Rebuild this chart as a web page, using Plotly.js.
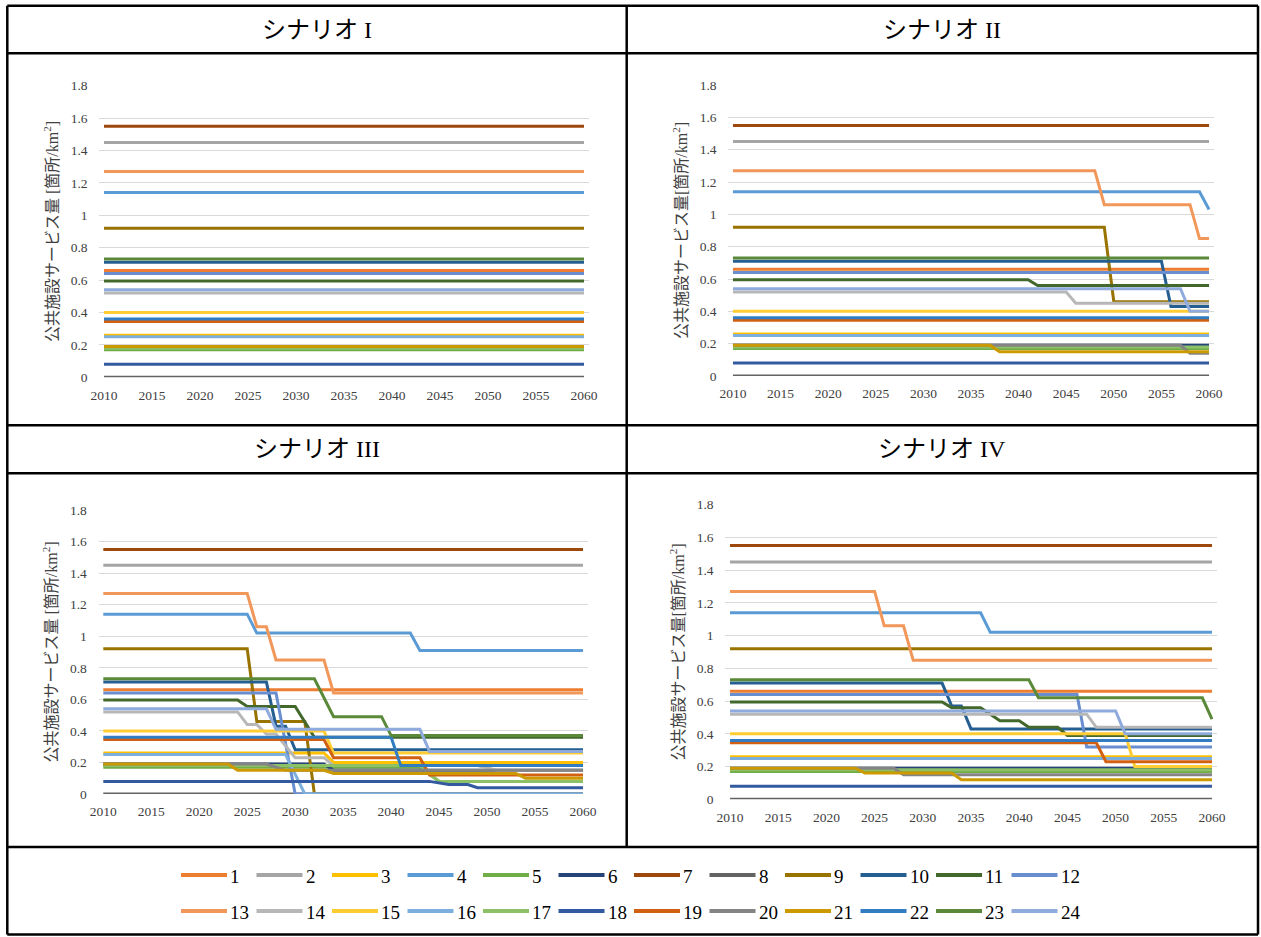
<!DOCTYPE html>
<html><head><meta charset="utf-8">
<script src="https://cdn.plot.ly/plotly-3.0.1.min.js"></script>
<style>html,body{margin:0;padding:0;background:#fff;overflow:hidden}</style>
</head><body><div id="chart" style="width:1261px;height:937px"></div>
<script>
// ---------- data ----------
const seriesNames = ['1','2','3','4','5','6','7','8','9','10','11','12','13','14','15','16','17','18','19','20','21','22','23','24'];
const seriesColors = ['#ED7D31','#A5A5A5','#FFC000','#5B9BD5','#70AD47','#264478','#9E480E','#636363','#997300','#255E91','#43682B','#698ED0',
                      '#F1975A','#B7B7B7','#FFCD33','#7CAFDD','#8CC168','#335AA1','#D26012','#848484','#CC9A00','#327DC2','#5A8A39','#8FAADC'];
const scenarioTitles = ['シナリオ I','シナリオ II','シナリオ III','シナリオ IV'];
const yAxisTitles = ['公共施設サービス量 [箇所/km<sup>2</sup>]','公共施設サービス量[箇所/km<sup>2</sup>]',
                     '公共施設サービス量 [箇所/km<sup>2</sup>]','公共施設サービス量[箇所/km<sup>2</sup>]'];
const xTickYears = [2010,2015,2020,2025,2030,2035,2040,2045,2050,2055,2060];
const yTickValues = [0,0.2,0.4,0.6,0.8,1,1.2,1.4,1.6,1.8];

// Scenario I : vertices (year, value) of each series 1..24
const scenario1Years = [
 [2010,2060],[2010,2060],[2010,2060],[2010,2060],[2010,2060],[2010,2060],[2010,2060],[2010,2060],
 [2010,2060],[2010,2060],[2010,2060],[2010,2060],[2010,2060],[2010,2060],[2010,2060],[2010,2060],
 [2010,2060],[2010,2060],[2010,2060],[2010,2060],[2010,2060],[2010,2060],[2010,2060],[2010,2060]];
const scenario1Values = [
 [0.66,0.66],[1.45,1.45],[0.26,0.26],[1.14,1.14],[0.17,0.17],[0.19,0.19],[1.55,1.55],[0,0],
 [0.92,0.92],[0.71,0.71],[0.595,0.595],[0.64,0.64],[1.27,1.27],[0.52,0.52],[0.40,0.40],[0.25,0.25],
 [0.18,0.18],[0.08,0.08],[0.345,0.345],[0.19,0.19],[0.19,0.19],[0.36,0.36],[0.73,0.73],[0.54,0.54]];

// Scenario II
const scenario2Years = [
 [2010,2060],[2010,2060],[2010,2060],[2010,2059,2060],[2010,2060],[2010,2060],[2010,2060],[2010,2060],
 [2010,2049,2050,2060],[2010,2055,2056,2060],[2010,2041,2042,2060],[2010,2060],
 [2010,2048,2049,2058,2059,2060],[2010,2045,2046,2060],[2010,2060],[2010,2060],
 [2010,2060],[2010,2060],[2010,2060],[2010,2057,2058,2060],[2010,2037,2038,2060],[2010,2060],[2010,2060],[2010,2057,2058,2060]];
const scenario2Values = [
 [0.66,0.66],[1.45,1.45],[0.26,0.26],[1.14,1.14,1.03],[0.17,0.17],[0.19,0.19],[1.55,1.55],[0,0],
 [0.92,0.92,0.46,0.46],[0.71,0.71,0.43,0.43],[0.595,0.595,0.56,0.56],[0.64,0.64],
 [1.27,1.27,1.06,1.06,0.85,0.85],[0.52,0.52,0.45,0.45],[0.40,0.40],[0.25,0.25],
 [0.18,0.18],[0.08,0.08],[0.345,0.345],[0.19,0.19,0.14,0.14],[0.19,0.19,0.15,0.15],[0.36,0.36],[0.73,0.73],[0.54,0.54,0.40,0.40]];

// Scenario III
const scenario3Years = [
 [2010,2060],[2010,2060],[2010,2033,2034,2060],[2010,2025,2026,2042,2043,2060],
 [2010,2043,2045,2060],[2010,2033,2034,2060],[2010,2060],[2010,2060],
 [2010,2025,2026,2031,2032,2060],[2010,2027,2028,2029,2030,2060],[2010,2024,2025,2030,2032,2060],[2010,2028,2030,2060],
 [2010,2025,2026,2027,2028,2033,2034,2060],[2010,2024,2025,2026,2027,2028,2030,2033,2034,2049,2051,2060],
 [2010,2033,2034,2060],[2010,2029,2031,2060],
 [2010,2043,2045,2060],[2010,2044,2046,2048,2049,2060],[2010,2033,2034,2043,2044,2060],[2010,2027,2029,2060],
 [2010,2023,2024,2033,2034,2053,2054,2060],[2010,2040,2041,2060],[2010,2032,2034,2039,2040,2060],[2010,2027,2028,2043,2044,2060]];
const scenario3Values = [
 [0.66,0.66],[1.45,1.45],[0.26,0.26,0.20,0.20],[1.14,1.14,1.02,1.02,0.91,0.91],
 [0.17,0.17,0.08,0.08],[0.19,0.19,0.15,0.15],[1.55,1.55],[0,0],
 [0.92,0.92,0.46,0.46,0,0],[0.71,0.71,0.43,0.43,0.28,0.28],[0.595,0.595,0.555,0.555,0.36,0.36],[0.64,0.64,0,0],
 [1.27,1.27,1.06,1.06,0.85,0.85,0.64,0.64],[0.52,0.52,0.44,0.44,0.38,0.38,0.23,0.23,0.18,0.18,0.15,0.15],
 [0.40,0.40,0.26,0.26],[0.25,0.25,0,0],
 [0.18,0.18,0.08,0.08],[0.08,0.08,0.06,0.06,0.04,0.04],[0.345,0.345,0.23,0.23,0.12,0.12],[0.19,0.19,0.15,0.15],
 [0.19,0.19,0.15,0.15,0.13,0.13,0.10,0.10],[0.36,0.36,0.18,0.18],[0.73,0.73,0.49,0.49,0.37,0.37],[0.54,0.54,0.41,0.41,0.27,0.27]];

// Scenario IV
const scenario4Years = [
 [2010,2060],[2010,2060],[2010,2060],[2010,2036,2037,2060],[2010,2060],[2010,2060],[2010,2060],[2010,2060],
 [2010,2060],[2010,2032,2033,2034,2035,2060],[2010,2032,2033,2036,2038,2040,2041,2044,2045,2060],[2010,2046,2047,2060],
 [2010,2025,2026,2028,2029,2060],[2010,2047,2048,2060],[2010,2051,2052,2060],[2010,2060],
 [2010,2060],[2010,2060],[2010,2048,2049,2060],[2010,2027,2028,2060],
 [2010,2023,2024,2033,2034,2060],[2010,2060],[2010,2041,2042,2059,2060],[2010,2050,2051,2060]];
const scenario4Values = [
 [0.66,0.66],[1.45,1.45],[0.26,0.26],[1.14,1.14,1.02,1.02],[0.17,0.17],[0.19,0.19],[1.55,1.55],[0,0],
 [0.92,0.92],[0.71,0.71,0.57,0.57,0.43,0.43],[0.595,0.595,0.56,0.56,0.48,0.48,0.44,0.44,0.39,0.39],[0.64,0.64,0.32,0.32],
 [1.27,1.27,1.06,1.06,0.85,0.85],[0.52,0.52,0.44,0.44],[0.40,0.40,0.20,0.20],[0.25,0.25],
 [0.18,0.18],[0.08,0.08],[0.345,0.345,0.23,0.23],[0.19,0.19,0.15,0.15],
 [0.19,0.19,0.16,0.16,0.12,0.12],[0.36,0.36],[0.73,0.73,0.62,0.62,0.49],[0.54,0.54,0.40,0.40]];

// ---------- layout helpers ----------
const W = 1261, H = 937;
const px = x => x / W;
const py = y => 1 - y / H;
const SERIF = '"Liberation Serif", "Noto Sans CJK JP", serif';

const scenarios = [
  {years: scenario1Years, values: scenario1Values},
  {years: scenario2Years, values: scenario2Values},
  {years: scenario3Years, values: scenario3Values},
  {years: scenario4Years, values: scenario4Values}
];
// plot-area boxes in pixels: [left, right, top, bottom]
const boxes = [[99.2, 588.8, 85.7, 377.3],[728.2, 1213.8, 85, 376],[98.5, 587.8, 510, 794],[725.2, 1216.8, 504.7, 799.3]];

const traces = [];
scenarios.forEach((sc, p) => {
  const ax = p === 0 ? '' : String(p + 1);
  seriesNames.forEach((name, i) => {
    traces.push({
      type: 'scatter', mode: 'lines', name: name,
      x: sc.years[i], y: sc.values[i],
      xaxis: 'x' + ax, yaxis: 'y' + ax,
      line: {color: seriesColors[i], width: 3},
      showlegend: false,
      hoverinfo: 'skip'
    });
  });
});

const layout = {
  width: W, height: H,
  margin: {l: 0, r: 0, t: 0, b: 0, autoexpand: false},
  paper_bgcolor: '#fff', plot_bgcolor: 'rgba(0,0,0,0)',
  font: {family: SERIF, color: '#404040'},
  showlegend: false,
  annotations: [], shapes: []
};

boxes.forEach((b, p) => {
  const ax = p === 0 ? '' : String(p + 1);
  layout['xaxis' + ax] = {
    domain: [px(b[0]), px(b[1])], range: [2009.5, 2060.5], anchor: 'y' + ax,
    tickvals: xTickYears, showgrid: false, zeroline: false, showline: false,
    ticks: 'outside', ticklen: 5, tickcolor: 'rgba(0,0,0,0)', automargin: false,
    tickfont: {family: SERIF, size: 13.5, color: '#404040'}, fixedrange: true
  };
  layout['yaxis' + ax] = {
    domain: [py(b[3]), py(b[2])], range: [0, 1.8], anchor: 'x' + ax,
    tickvals: yTickValues, showgrid: true, gridcolor: '#D9D9D9', gridwidth: 1,
    zeroline: false, showline: false, automargin: false,
    ticks: 'outside', ticklen: 8, tickcolor: 'rgba(0,0,0,0)',
    tickfont: {family: SERIF, size: 13.5, color: '#404040'}, fixedrange: true,
    title: {text: yAxisTitles[p], standoff: 8, font: {family: SERIF, size: 16, color: '#404040'}}
  };
});

// panel titles
const titlePos = [[317, 29.5],[942.3, 29.5],[317, 449.3],[942.3, 449.3]];
scenarioTitles.forEach((t, p) => {
  layout.annotations.push({
    text: t, xref: 'paper', yref: 'paper', x: px(titlePos[p][0]), y: py(titlePos[p][1]),
    xanchor: 'center', yanchor: 'middle', showarrow: false,
    font: {family: SERIF, size: 24, color: '#000'}
  });
});

// table borders
const hLines = [5.7, 53.3, 425.3, 473.3, 847, 934.5];
hLines.forEach(y => layout.shapes.push({type: 'line', xref: 'paper', yref: 'paper',
  x0: px(7.3), x1: px(1258), y0: py(y), y1: py(y), line: {color: '#000', width: 2.5}}));
[[7.3, 5.7, 934.5],[1258, 5.7, 934.5],[626.7, 5.7, 847]].forEach(v => layout.shapes.push({type: 'line', xref: 'paper', yref: 'paper',
  x0: px(v[0]), x1: px(v[0]), y0: py(v[1]), y1: py(v[2]), line: {color: '#000', width: 2.5}}));

// legend: two rows of 12 entries (key line + label)
seriesNames.forEach((name, i) => {
  const col = i % 12, row = Math.floor(i / 12);
  const x0 = 181 + 75.5 * col;
  const yc = row === 0 ? 875 : 911;
  layout.shapes.push({type: 'line', xref: 'paper', yref: 'paper',
    x0: px(x0), x1: px(x0 + 46), y0: py(yc), y1: py(yc),
    line: {color: seriesColors[i], width: 4}});
  layout.annotations.push({text: name, xref: 'paper', yref: 'paper',
    x: px(x0 + 47), y: py(yc + 1), xanchor: 'left', yanchor: 'middle', showarrow: false,
    font: {family: SERIF, size: 19, color: '#000'}});
});

Plotly.newPlot('chart', traces, layout, {staticPlot: true, displayModeBar: false});
</script></body></html>
